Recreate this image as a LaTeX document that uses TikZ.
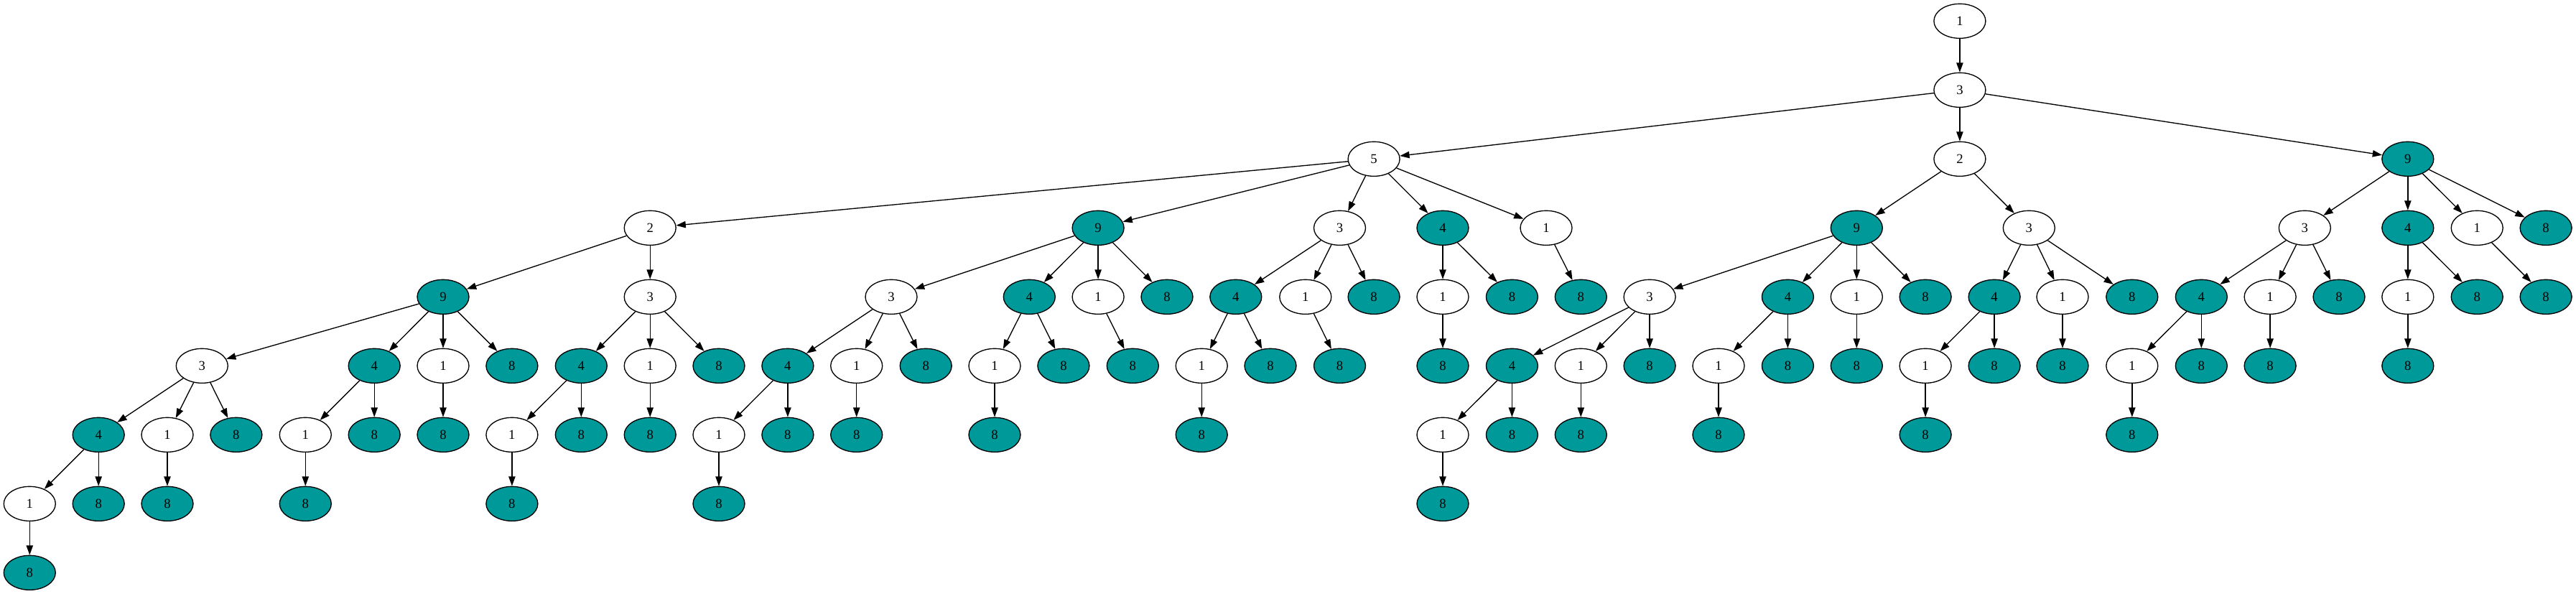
\documentclass[tikz,border=0pt]{standalone}
\usepackage{fontspec}
\setmainfont{Liberation Serif}
\usepackage{xcolor}
\usepackage{tikz}
\usetikzlibrary{arrows.meta, shapes.geometric}
\definecolor{gteal}{HTML}{009999}

\tikzset{
  gnode/.style={ellipse, draw=black, line width=1pt, minimum width=54pt,
    minimum height=36pt, inner sep=0pt, font=\fontsize{14}{16}\selectfont},
  gedge/.style={-{Triangle[length=10pt, width=7pt]}, line width=1pt, black},
}

\begin{document}
\begin{tikzpicture}[x=0.75pt, y=-72pt]

  \useasboundingbox (0,-0.3056) rectangle (3587,8.3090);

  %% Levels 0 - 2
  \foreach \nm/\x/\lv/\lab/\fc in {
    a/2728.9/0/1/white,
    b/2728.9/1/3/white,
    c1/1913.1/2/5/white, c2/2728.9/2/2/white, c3/3352.8/2/9/gteal}{
    \node[gnode, fill=\fc] (\nm) at (\x,\lv) {\lab};
  }

  %% Level 3
  \foreach \nm/\x/\lab/\fc in {
    d1/905.2/2/white, d2/1529.1/9/gteal, d3/1865.5/3/white, d4/2009.0/4/gteal,
    d5/2153.0/1/white, d6/2585.3/9/gteal, d7/2825.3/3/white, d8/3209.3/3/white,
    d9/3352.8/4/gteal, d10/3449.2/1/white, d11/3545.1/8/gteal}{
    \node[gnode, fill=\fc] (\nm) at (\x,3) {\lab};
  }

  %% Level 4
  \foreach \nm/\x/\lab/\fc in {
    e1/617.0/9/gteal, e2/905.2/3/white, e3/1241.0/3/white, e4/1433.3/4/gteal,
    e5/1529.1/1/white, e6/1625.0/8/gteal, e7/1720.8/4/gteal, e8/1817.8/1/white,
    e9/1913.1/8/gteal, e10/2009.0/1/white, e11/2105.4/8/gteal, e12/2201.3/8/gteal,
    e13/2297.1/3/white, e14/2489.4/4/gteal, e15/2585.3/1/white, e16/2681.1/8/gteal,
    e17/2777.1/4/gteal, e18/2872.0/1/white, e19/2968.8/8/gteal, e20/3065.3/4/gteal,
    e21/3161.1/1/white, e22/3257.0/8/gteal, e23/3352.8/1/white, e24/3449.2/8/gteal,
    e25/3545.1/8/gteal}{
    \node[gnode, fill=\fc] (\nm) at (\x,4) {\lab};
  }

  %% Level 5
  \foreach \nm/\x/\lab/\fc in {
    f1/281.3/3/white, f2/521.2/4/gteal, f3/617.0/1/white, f4/712.9/8/gteal,
    f5/809.3/4/gteal, f6/905.2/1/white, f7/1001.0/8/gteal, f8/1096.9/4/gteal,
    f9/1192.7/1/white, f10/1289.2/8/gteal, f11/1385.0/1/white, f12/1480.9/8/gteal,
    f13/1577.3/8/gteal, f14/1673.2/1/white, f15/1769.0/8/gteal, f16/1865.5/8/gteal,
    f17/2009.0/8/gteal, f18/2105.4/4/gteal, f19/2201.3/1/white, f20/2297.1/8/gteal,
    f21/2393.0/1/white, f22/2489.4/8/gteal, f23/2585.3/8/gteal, f24/2681.1/1/white,
    f25/2777.1/8/gteal, f26/2872.0/8/gteal, f27/2968.8/1/white, f28/3065.3/8/gteal,
    f29/3161.1/8/gteal, f30/3352.8/8/gteal}{
    \node[gnode, fill=\fc] (\nm) at (\x,5) {\lab};
  }

  %% Level 6
  \foreach \nm/\x/\lab/\fc in {
    g1/137.2/4/gteal, g2/233.0/1/white, g3/328.9/8/gteal, g4/425.3/1/white,
    g5/521.2/8/gteal, g6/617.0/8/gteal, g7/712.9/1/white, g8/809.3/8/gteal,
    g9/905.2/8/gteal, g10/1001.0/1/white, g11/1096.9/8/gteal, g12/1192.7/8/gteal,
    g13/1385.0/8/gteal, g14/1673.2/8/gteal, g15/2009.0/1/white, g16/2105.4/8/gteal,
    g17/2201.3/8/gteal, g18/2393.0/8/gteal, g19/2681.1/8/gteal, g20/2968.8/8/gteal}{
    \node[gnode, fill=\fc] (\nm) at (\x,6) {\lab};
  }

  %% Levels 7 - 8
  \foreach \nm/\x/\lv/\lab/\fc in {
    h1/41.3/7/1/white, h2/137.2/7/8/gteal, h3/233.0/7/8/gteal, h4/425.3/7/8/gteal,
    h5/712.9/7/8/gteal, h6/1001.0/7/8/gteal, h7/2009.0/7/8/gteal,
    i1/41.3/8/8/gteal}{
    \node[gnode, fill=\fc] (\nm) at (\x,\lv) {\lab};
  }

  %% Edges
  \foreach \p/\c in {
    a/b, b/c1, b/c2, b/c3,
    c1/d1, c1/d2, c1/d3, c1/d4, c1/d5, c2/d6, c2/d7,
    c3/d8, c3/d9, c3/d10, c3/d11,
    d1/e1, d1/e2, d2/e3, d2/e4, d2/e5, d2/e6, d3/e7, d3/e8, d3/e9,
    d4/e10, d4/e11, d5/e12, d6/e13, d6/e14, d6/e15, d6/e16,
    d7/e17, d7/e18, d7/e19, d8/e20, d8/e21, d8/e22, d9/e23, d9/e24, d10/e25,
    e1/f1, e1/f2, e1/f3, e1/f4, e2/f5, e2/f6, e2/f7, e3/f8, e3/f9, e3/f10,
    e4/f11, e4/f12, e5/f13, e7/f14, e7/f15, e8/f16, e10/f17,
    e13/f18, e13/f19, e13/f20, e14/f21, e14/f22, e15/f23,
    e17/f24, e17/f25, e18/f26, e20/f27, e20/f28, e21/f29, e23/f30,
    f1/g1, f1/g2, f1/g3, f2/g4, f2/g5, f3/g6, f5/g7, f5/g8, f6/g9,
    f8/g10, f8/g11, f9/g12, f11/g13, f14/g14, f18/g15, f18/g16, f19/g17,
    f21/g18, f24/g19, f27/g20,
    g1/h1, g1/h2, g2/h3, g4/h4, g7/h5, g10/h6, g15/h7,
    h1/i1}{
    \draw[gedge] (\p) -- (\c);
  }

\end{tikzpicture}
\end{document}
